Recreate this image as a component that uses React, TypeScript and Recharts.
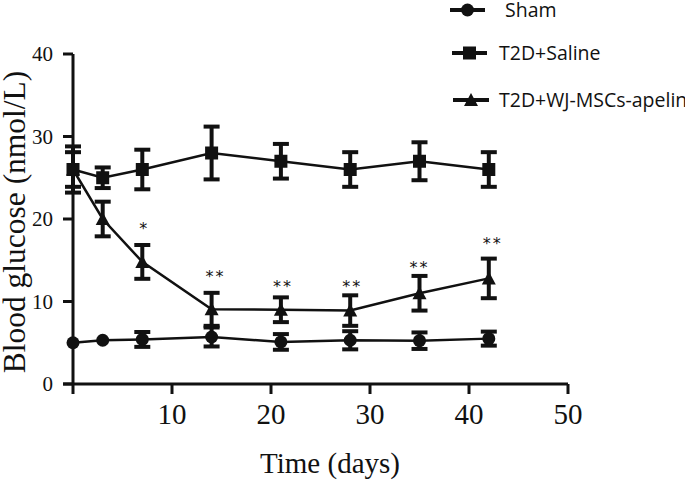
import { ComposedChart, Line, Scatter, XAxis, YAxis, ErrorBar, ReferenceLine, Label } from "recharts"

const days = [0, 3, 7, 14, 21, 28, 35, 42]
const shamValues = [5.0, 5.3, 5.4, 5.7, 5.1, 5.3, 5.25, 5.5]
const shamErrors = [null, null, 0.9, 1.15, 0.95, 1.1, 1.0, 0.85]
const salineValues = [26, 25, 26, 28, 27, 26, 27, 26]
const salineErrors = [2.8, 1.25, 2.4, 3.2, 2.1, 2.1, 2.3, 2.1]
const apelinValues = [26, 20, 14.8, 9.05, 9, 8.9, 11, 12.8]
const apelinErrors = [2.1, 2.1, 2.05, 2.0, 1.5, 1.85, 2.1, 2.4]

// significance marks above the apelin group
const sigDays = [7.2, 14.4, 21.2, 28.2, 35, 42.4]
const sigLevels = [19.3, 13.5, 12.2, 12.2, 14.6, 17.5]
const sigLabels = ["*", "**", "**", "**", "**", "**"]

const xTicks = [0, 10, 20, 30, 40, 50]
const yTicks = [0, 10, 20, 30, 40]
const seriesNames = ["Sham", "T2D+Saline", "T2D+WJ-MSCs-apelin"]

const INK = "#111"
const SERIF = "'Liberation Serif', 'Times New Roman', serif"
const SANS = "'Open Sans', 'Liberation Sans', sans-serif"

const data = days.map((day, i) => ({
  day,
  sham: shamValues[i],
  shamErr: shamErrors[i],
  saline: salineValues[i],
  salineErr: salineErrors[i],
  apelin: apelinValues[i],
  apelinErr: apelinErrors[i],
}))

const sigData = sigDays.map((day, i) => ({ day, level: sigLevels[i], label: sigLabels[i] }))

function CircleDot({ cx, cy }: any) {
  return <circle cx={cx} cy={cy} r={6.5} fill={INK} />
}

function SquareDot({ cx, cy }: any) {
  return <rect x={cx - 6.5} y={cy - 6.5} width={13} height={13} fill={INK} />
}

function TriangleDot({ cx, cy }: any) {
  return <polygon points={`${cx},${cy - 7} ${cx + 7},${cy + 6} ${cx - 7},${cy + 6}`} fill={INK} />
}

const markers = [CircleDot, SquareDot, TriangleDot]

function LegendBox() {
  const rows = [
    { y: 10, x1: 450, x2: 485, tx: 505 },
    { y: 53, x1: 452, x2: 487, tx: 499 },
    { y: 100, x1: 453, x2: 489, tx: 499 },
  ]
  return (
    <svg width={685} height={120} style={{ position: "absolute", left: 0, top: 0, overflow: "hidden" }}>
      {rows.map((r, i) => {
        const Marker = markers[i]
        return (
          <g key={seriesNames[i]}>
            <line x1={r.x1} x2={r.x2} y1={r.y} y2={r.y} stroke={INK} strokeWidth={4} />
            <Marker cx={(r.x1 + r.x2) / 2} cy={r.y} />
            <text x={r.tx} y={r.y + 7} fontFamily={SANS} fontSize={19.5} fill={INK}>
              {seriesNames[i]}
            </text>
          </g>
        )
      })}
    </svg>
  )
}

export default function App() {
  return (
    <div style={{ position: "absolute", left: 0, top: 0, width: 685, height: 482, background: "#fff" }}>
      <ComposedChart width={685} height={482} data={data} margin={{ top: 54, right: 117, left: 13, bottom: 38 }}>
        <XAxis
          type="number"
          dataKey="day"
          domain={[0, 50]}
          ticks={xTicks}
          tickFormatter={(v) => (v === 0 ? "" : String(v))}
          tickSize={10}
          tickMargin={9}
          height={60}
          axisLine={{ stroke: INK, strokeWidth: 3 }}
          tickLine={{ stroke: INK, strokeWidth: 3 }}
          tick={{ fill: INK, fontSize: 29, fontFamily: SERIF }}
        >
          <Label
            content={() => (
              <text x={330} y={473} textAnchor="middle" fontFamily={SERIF} fontSize={29} fill={INK}>
                Time (days)
              </text>
            )}
          />
        </XAxis>
        <YAxis
          type="number"
          domain={[0, 40]}
          ticks={yTicks}
          tickSize={10}
          tickMargin={10}
          width={60}
          axisLine={{ stroke: INK, strokeWidth: 3 }}
          tickLine={{ stroke: INK, strokeWidth: 3 }}
          tick={{ fill: INK, fontSize: 21, fontFamily: SERIF }}
        >
          <Label
            content={() => (
              <text
                x={25}
                y={222}
                transform="rotate(-90 25 222)"
                textAnchor="middle"
                fontFamily={SERIF}
                fontSize={31.5}
                fill={INK}
              >
                Blood glucose (nmol/L)
              </text>
            )}
          />
        </YAxis>
        <ReferenceLine
          segment={[{ x: -1, y: 0 }, { x: 0, y: 0 }]}
          ifOverflow="visible"
          stroke={INK}
          strokeWidth={3}
        />
        <Line
          dataKey="sham"
          stroke={INK}
          strokeWidth={2.5}
          dot={(p: any) => <CircleDot key={`sham-${p.index}`} {...p} />}
          isAnimationActive={false}
        >
          <ErrorBar dataKey="shamErr" direction="y" width={8} stroke={INK} strokeWidth={4} />
        </Line>
        <Line
          dataKey="saline"
          stroke={INK}
          strokeWidth={2.5}
          dot={(p: any) => <SquareDot key={`saline-${p.index}`} {...p} />}
          isAnimationActive={false}
        >
          <ErrorBar dataKey="salineErr" direction="y" width={8} stroke={INK} strokeWidth={4} />
        </Line>
        <Line
          dataKey="apelin"
          stroke={INK}
          strokeWidth={2.5}
          dot={(p: any) => <TriangleDot key={`apelin-${p.index}`} {...p} />}
          isAnimationActive={false}
        >
          <ErrorBar dataKey="apelinErr" direction="y" width={8} stroke={INK} strokeWidth={4} />
        </Line>
        <Scatter
          data={sigData}
          dataKey="level"
          isAnimationActive={false}
          shape={(p: any) => (
            <text
              x={p.cx}
              y={p.cy + 9}
              textAnchor="middle"
              fontFamily="'DejaVu Sans', sans-serif"
              fontSize={16}
              letterSpacing={2}
              fill={INK}
            >
              {p.payload.label}
            </text>
          )}
        />
      </ComposedChart>
      <LegendBox />
    </div>
  )
}
